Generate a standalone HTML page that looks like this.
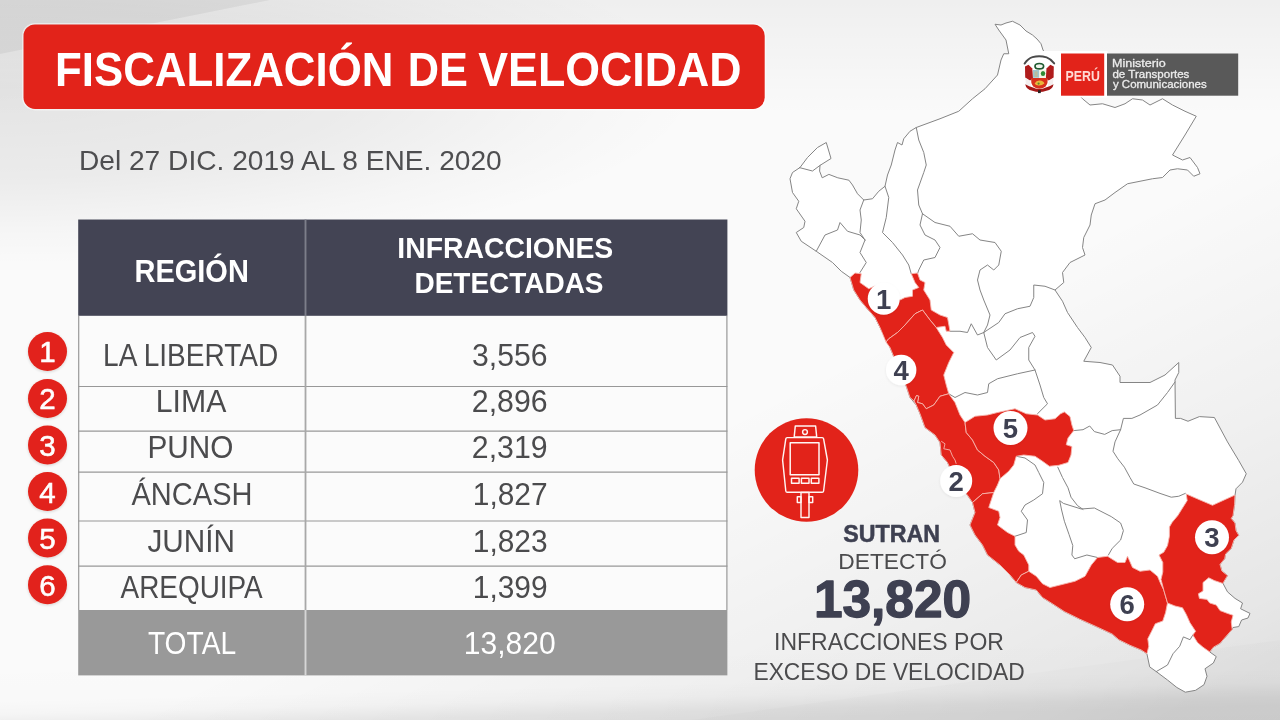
<!DOCTYPE html>
<html lang="es">
<head>
<meta charset="utf-8">
<title>Fiscalización de velocidad</title>
<style>
html,body{margin:0;padding:0;}
body{width:1280px;height:720px;overflow:hidden;position:relative;font-family:"Liberation Sans",sans-serif;
background:#f1f1f1;}
#bg{position:absolute;left:0;top:0;width:1280px;height:720px;}
svg{position:absolute;left:0;top:0;}
svg text{font-family:"Liberation Sans",sans-serif;}
</style>
</head>
<body>
<svg id="page" width="1280" height="720" viewBox="0 0 1280 720">
<defs>
<linearGradient id="gtop" gradientUnits="userSpaceOnUse" x1="0" y1="0" x2="0" y2="115">
<stop offset="0" stop-color="#000" stop-opacity="0.045"/><stop offset="1" stop-color="#000" stop-opacity="0"/>
</linearGradient>
<radialGradient id="gtl" gradientUnits="userSpaceOnUse" cx="0" cy="90" r="1" gradientTransform="translate(0 90) scale(700 175) translate(0 -90)">
<stop offset="0" stop-color="#000" stop-opacity="0.09"/><stop offset="0.5" stop-color="#000" stop-opacity="0.06"/><stop offset="0.8" stop-color="#000" stop-opacity="0.02"/><stop offset="1" stop-color="#000" stop-opacity="0"/>
</radialGradient>
<linearGradient id="gbot" gradientUnits="userSpaceOnUse" x1="0" y1="660" x2="3" y2="780">
<stop offset="0" stop-color="#000" stop-opacity="0"/><stop offset="0.35" stop-color="#000" stop-opacity="0.006"/><stop offset="0.45" stop-color="#000" stop-opacity="0.02"/><stop offset="0.5" stop-color="#000" stop-opacity="0.04"/><stop offset="0.57" stop-color="#000" stop-opacity="0.07"/><stop offset="0.65" stop-color="#000" stop-opacity="0.085"/><stop offset="1" stop-color="#000" stop-opacity="0.09"/>
</linearGradient>
<linearGradient id="gbr" gradientUnits="userSpaceOnUse" x1="640" y1="330" x2="900" y2="850">
<stop offset="0.2" stop-color="#000" stop-opacity="0"/><stop offset="0.6" stop-color="#000" stop-opacity="0.04"/><stop offset="0.9" stop-color="#000" stop-opacity="0.078"/><stop offset="1" stop-color="#000" stop-opacity="0.1"/>
</linearGradient>
<filter id="sh2" x="-30%" y="-30%" width="160%" height="160%"><feGaussianBlur in="SourceAlpha" stdDeviation="1.4"/><feOffset dx="0" dy="0.5" result="b"/><feComponentTransfer><feFuncA type="linear" slope="0.07"/></feComponentTransfer><feMerge><feMergeNode/><feMergeNode in="SourceGraphic"/></feMerge></filter>
<filter id="sh" x="-30%" y="-30%" width="160%" height="160%"><feGaussianBlur in="SourceAlpha" stdDeviation="1.6"/><feOffset dx="0" dy="1" result="b"/><feComponentTransfer><feFuncA type="linear" slope="0.16"/></feComponentTransfer><feMerge><feMergeNode/><feMergeNode in="SourceGraphic"/></feMerge></filter>
</defs>
<!-- background -->
<g id="background">
<rect width="1280" height="720" fill="#fafafa"/>
<rect width="1280" height="720" fill="url(#gtop)"/>
<rect width="1280" height="720" fill="url(#gtl)"/>
<polygon points="0,0 270,0 0,54" fill="#000" opacity="0.05"/>
<rect width="1280" height="720" fill="url(#gbot)"/>
<rect width="1280" height="720" fill="url(#gbr)"/>
<polygon points="690,720 1010,676 1280,640 1280,720" fill="#000" opacity="0.012"/>
</g>

<!-- title -->
<g id="title">
<rect x="22" y="23" width="744.2" height="87.4" rx="13" ry="13" fill="#ffffff" opacity="0.5"/>
<rect x="23.5" y="24.5" width="741.2" height="84.4" rx="11.5" ry="11.5" fill="#e2231a"/>
</g>

<!-- table -->
<g id="table">
<rect x="78.2" y="219.5" width="649.2" height="456" fill="#fbfbfb"/>
<rect x="78.2" y="219.5" width="649.2" height="96.3" fill="#434454"/>
<rect x="78.2" y="610" width="649.2" height="65.4" fill="#999999"/>
<g stroke="#989898" stroke-width="1.2" fill="none">
<line x1="78.2" x2="727.4" y1="386.5" y2="386.5"/><line x1="78.2" x2="727.4" y1="431.1" y2="431.1"/><line x1="78.2" x2="727.4" y1="472.1" y2="472.1"/><line x1="78.2" x2="727.4" y1="521" y2="521"/><line x1="78.2" x2="727.4" y1="566.2" y2="566.2"/>
<line x1="78.7" x2="78.7" y1="315.8" y2="610"/>
<line x1="726.9" x2="726.9" y1="315.8" y2="610"/>
</g>
<line x1="305.5" x2="305.5" y1="315.8" y2="610" stroke="#a8a8a8" stroke-width="1.8"/>
<line x1="305.5" x2="305.5" y1="219.5" y2="315.8" stroke="#7c7e8a" stroke-width="1.9"/>
<line x1="305.5" x2="305.5" y1="610" y2="675.4" stroke="#d6d6d6" stroke-width="1.9"/>
</g>

<!-- rank bullets -->
<g id="bullets" filter="url(#sh)">
<circle cx="47.5" cy="351.5" r="19.5" fill="#e2231a"/><circle cx="47.5" cy="398.4" r="19.5" fill="#e2231a"/><circle cx="47.5" cy="445" r="19.5" fill="#e2231a"/><circle cx="47.5" cy="491.6" r="19.5" fill="#e2231a"/><circle cx="47.5" cy="538" r="19.5" fill="#e2231a"/><circle cx="47.5" cy="584.7" r="19.5" fill="#e2231a"/>
</g>
<g id="bulletnums" font-size="29.5" font-weight="400" fill="#fff" stroke="#fff" stroke-width="0.55" text-anchor="middle">
<text x="47.5" y="362.4">1</text><text x="47.5" y="409.3">2</text><text x="47.5" y="455.9">3</text><text x="47.5" y="502.5">4</text><text x="47.5" y="548.9">5</text><text x="47.5" y="595.6">6</text>
</g>

<!-- map -->
<g id="map">
<polygon points="995,24.25 1001,25 1006,23 1012.5,21.25 1020,25 1026,31 1032.5,35 1037,39 1041,43.75 1043,50 1047,56 1052,62 1058,70 1064,78 1070,86 1076,92 1082.5,98.75 1090,105 1102.5,103.75 1115,107.5 1125,103.75 1132.5,98.75 1142.5,100 1150,105 1162.5,98.75 1172.5,105 1185,111.25 1196.25,116.25 1185,135 1172.5,155 1182.5,160 1190,157.5 1197.5,167.5 1200,173.75 1193.75,176.25 1187.5,170 1177.5,168.75 1170,170 1162.5,177.5 1152.5,178.75 1140,181.25 1127.5,183.75 1115,192.5 1105,200 1095,203.75 1091.25,215 1090,225 1083.75,237.5 1082.5,247.5 1085,255 1070,262.5 1062.5,272.5 1063.75,282.5 1055,290 1062.5,301.25 1067.5,312.5 1077.5,327.5 1085,337.5 1091.25,347.5 1083.75,361.25 1100,362.5 1112.5,365 1120,376.25 1120,382.5 1150,382.5 1165,375 1178.75,362.5 1178.75,372.5 1175,380 1175.4,418.4 1180.6,418.4 1188,421.25 1199.4,416.6 1214.4,417.5 1227.5,441.9 1238.75,460.6 1246.25,473.75 1242.5,482.2 1236,488.75 1235,495.3 1234.6,504.4 1233,515.6 1231.25,518.4 1235,523 1236,530.6 1238.75,535.3 1234,540 1231.25,548.4 1225.6,554 1224.7,558.75 1220,564.4 1221.9,571 1227.5,575.6 1222.8,583 1227.5,591.9 1235,598.4 1242.5,603 1240.6,608.75 1250,613.4 1248,618 1241.6,620 1238.75,626.6 1233,627.5 1232.2,629.4 1225.6,636.9 1220,643.4 1213.4,647.2 1209.7,651.9 1216.25,656.6 1213.4,663 1205,668.75 1207,676.25 1204,684.7 1195.6,690.3 1185.3,692.2 1176.9,687.5 1167.5,680 1156.25,671.6 1149.7,666.9 1146.9,653.75 1141.25,650 1130,645.3 1118.75,639.7 1112.2,634 1096.25,626.6 1079.4,619 1064.4,611.6 1051.25,603 1042.5,597.5 1036.25,590 1025,587.5 1016.25,582.5 1010,575 1000,565 987.5,555 982.5,545 975,535 970,525 975,512.5 972.5,502.5 968,496 962,488 956,478 950,468 947.5,462.5 941.25,455 940,442.5 935,435 925,427.5 920,413.75 916.25,405 910,397.5 906.25,386.25 901,375 896,362 890,347.5 885,337.5 880,327.5 875,317.5 866.25,307.5 860,300 853.75,290 850,277.5 841.25,271.25 832.5,262.5 816.25,251.25 801.25,241.25 796.25,232.5 803.75,227.5 805,221.25 796.25,208.75 798.75,201.25 792.5,192.5 790,178.75 792.5,172.5 800,167.5 807.5,157.5 817.5,147.5 826.25,142.5 831,158.5 820,165.4 819.6,171.1 822.2,177.8 828.9,174.4 837.8,177.8 848.9,180.2 852.5,185 857.5,193.75 863.75,200 872.5,198.75 878.75,191.25 885,186.25 887.5,175 891.25,165 895,150 897.5,142.5 902,145 903.75,138.75 910,131.25 916.25,127.5 940,118.75 958.75,111.25 972.5,98.75 985,88.75 997.5,75 1001,60 1003.75,53.75 1008.75,53.75 1006,40 998.75,30" fill="#ffffff" stroke="#858585" stroke-width="1" stroke-linejoin="round"/>
<g fill="none" stroke="#858585" stroke-width="1" stroke-linejoin="round" stroke-linecap="round">
<polyline points="799.5,167.6 812.5,171 820,165.4"/><polyline points="816.25,251.25 825,235 837.5,230 840,222.5 847.5,231.25 860,235 865,240"/><polyline points="863.75,200 860,210 861.25,220 860,232.5 865,240"/><polyline points="865,240 860,252.5 866.25,262.5 860,272.5"/><polyline points="885,186.25 888.75,197.5 886.25,217.5 882.5,232.5 892.5,242.5 902.5,255 908.75,265 911.25,273.75"/><polyline points="916.25,127.5 918.75,140 923.75,152.5 926.25,165 923.75,172.5 917.5,190 918.75,205 922.5,213.75"/><polyline points="922.5,213.75 920,225 925,235 935,240 940,247.5 935,257.5 923.75,260 918.75,270 917.5,273.75"/><polyline points="922.5,213.75 935,222.5 950,226.25 958.75,236.25 972.5,233.75 980,240 995,242.5 1001.25,251.25 998.75,265 993.75,270 987.5,265 980,270 977.5,280 980,290 983.75,300 990,315 987.5,325 983.75,332.5"/><polyline points="950,331.25 960,331.25 967.5,332.5 971.25,323.75 977.5,335 983.75,332.5"/><polyline points="983.75,332.5 998.75,322.5 1005,313.75 1017.5,308.75 1030,306.25 1033.75,297.5 1033.75,285 1045,286.25 1055,290"/><polyline points="983.75,332.5 987.5,347.5 996.25,360 1010,350 1020,337.5 1032.5,332.5 1035,336.25 1028.75,347.5 1028.75,360 1035,370 1040,385 1043.75,397.5 1047.5,403.75 1037.5,413.75"/><polyline points="1035,370 1017.5,373.75 997.5,378.75 988.75,383.75 987.5,392.5 977.5,395 965,392.5 955,397.5 948.75,393.75"/><polyline points="1073.75,430.6 1083,429.7 1089.7,426 1094.4,431.6 1104.7,434.4 1112.2,430.6 1120.6,429.7"/><polyline points="1175,382 1167.5,392.5 1157.5,405 1140,415 1131.9,418.4 1123.4,418.4 1120.6,429.7 1115,441.9 1113,451.25 1117.8,458.75 1124.4,467.2 1130,477.5 1133.75,484 1145,487.8 1160,493.4 1171.25,497.2 1178.75,496.25 1185.3,493.4"/><polyline points="1016.25,456.25 1025,458 1035,465 1038.75,472.5 1043.75,482.5 1042.5,493.75 1033.75,500 1025,505 1021.25,511.25 1027.5,520 1026.25,532.5 1015,536.25"/><polyline points="1057.8,467.2 1062.5,477.5 1068,487.8 1071,497.2 1077.5,505.6 1083,509.4"/><polyline points="1108.4,555 1112.2,548.4 1120.6,540 1123.4,530.6 1120.6,523 1111.25,516.6 1094.4,508 1081.25,509 1063.4,503.4 1059.7,500.6 1061.6,510 1064.4,521.25 1069,534.4 1072.8,545.6 1071.9,555 1074.7,558.75 1086.9,555 1097.5,557.5"/><polyline points="1156.25,671.6 1167.5,665 1173,653.75 1179.7,646.25 1183.4,636.9 1190,639.7 1192.8,635"/>
</g>
<g fill="#e2231a" stroke="#f6b5ae" stroke-width="0.9" stroke-linejoin="round">
<polygon id="r-lalibertad" points="850,277.5 855,273 861.25,273.75 860,282.5 868.75,288.75 875,286 885,290 893,296 900,300 905,297.5 912.5,296.25 912.5,290 918.75,287.5 915,282.5 911.25,273.75 917.5,273 920,280 925,282.5 923.75,290 930,300 931.25,310 940,315 947.5,317.5 950,331.25 946.25,331.25 945,326.25 936.25,327.5 930,320 922.5,310 915,313.75 905,325 897.5,332.5 888.75,338.75 886,342 880,327.5 875,317.5 866.25,307.5 860,300 853.75,290"/><polygon id="r-ancash" points="886,342 888.75,338.75 897.5,332.5 905,325 915,313.75 922.5,310 930,320 936.25,327.5 942.5,337.5 946.25,345 953.75,352.5 948.75,362.5 943.75,375 946.25,385 948.75,393.75 940,396.25 933.75,405 926.25,408.75 922.5,403.75 917.5,402.5 918.75,396.25 916.5,395.5 914,401 910,397.5 906.25,386.25 901,375 896,362 890,347.5"/><polygon id="r-lima" points="914,401 916.5,395.5 918.75,396.25 917.5,402.5 922.5,403.75 926.25,408.75 933.75,405 940,396.25 948.75,393.75 955,402.5 960,415 965,422.5 966.25,432.5 972.5,440 977.5,450 985,456.25 993.75,462.5 998.75,470 1000,478.75 997.5,485 993.75,492.5 982.5,493.75 972.5,502.5 968,496 962,488 956,478 950,468 947.5,462.5 941.25,455 940,442.5 935,435 925,427.5 920,413.75 916.25,405"/><polygon id="r-junin" points="965,422.5 975,416.25 987.5,415 997.5,412.5 1015,408.75 1026.25,413.75 1037.5,415 1045,420 1055,418.75 1060.6,413.75 1064.4,411.9 1070,416.6 1071.9,425 1073.75,430.6 1068,438 1066.25,444.7 1071.9,446.6 1071,455 1068,462.5 1058.75,465.3 1049.4,466.25 1042.5,461.25 1035,456.25 1023.75,455 1016.25,456.25 1013.75,465 1008.75,471.25 1000,478.75 998.75,470 993.75,462.5 985,456.25 977.5,450 972.5,440 966.25,432.5"/><polygon id="r-ica" points="972.5,502.5 982.5,493.75 993.75,492.5 988.75,507.5 998.75,511.25 1000,517.5 997.5,525 1007.5,532.5 1015,536.25 1015,545 1018.75,551.25 1023.75,555 1028.75,565 1028.75,571.25 1021.25,575 1016.25,582.5 1010,575 1000,565 987.5,555 982.5,545 975,535 970,525 975,512.5"/><polygon id="r-arequipa" points="1016.25,582.5 1021.25,575 1028.75,571.25 1036.25,576.25 1042.5,583.75 1050,587.5 1060,585 1075,581.25 1085,576.25 1091.25,565 1097.5,557.5 1107.5,556.25 1117.5,562.5 1125,562.5 1127.5,556.25 1132.5,567.5 1140,571.25 1150,570 1157.5,576.25 1161.25,585 1163.75,590 1167.5,603 1165.6,612.5 1162.8,621 1155.3,623.75 1151.6,631.25 1147.8,638.75 1148.75,646.25 1146.9,653.75 1141.25,650 1130,645.3 1118.75,639.7 1112.2,634 1096.25,626.6 1079.4,619 1064.4,611.6 1051.25,603 1042.5,597.5 1036.25,590 1025,587.5"/><polygon id="r-puno" points="1186.25,494 1199.4,499.7 1212.5,505.3 1224.7,499.7 1235,495 1234.6,504.4 1233,515.6 1231.25,518.4 1235,523 1236,530.6 1238.75,535.3 1234,540 1231.25,548.4 1225.6,554 1224.7,558.75 1220,564.4 1221.9,571 1227.5,575.6 1222.8,583.4 1214.4,580.6 1208.75,577.8 1203,582.5 1203,591 1198.4,593.75 1199.4,598.4 1207,599.4 1209.7,603 1216.25,605 1220,610.6 1227.5,613.4 1233,615.3 1231.25,621.9 1232.2,629.4 1225.6,636.9 1220,643.4 1213.4,647.2 1209.7,651.9 1203,647.2 1197.5,642.5 1192.8,635 1195.6,631.25 1190,622.8 1186.25,614.4 1182.5,607.8 1175,606 1167.5,603 1163.75,590 1161,579.4 1162.8,572 1162.8,562.5 1159,555 1163.75,552.2 1167.5,545.6 1169.4,536.25 1169.4,527 1172.2,522.2 1177.8,515.6 1182.5,508 1187.2,500.6"/>
</g>
<polyline points="941.2,441.2 945,443.8 943.8,448.8 950,450 952.5,456.2 955,460 956.2,463.8" fill="none" stroke="#f6b5ae" stroke-width="0.9"/>
</g>
<g id="markers" filter="url(#sh2)">
<circle cx="883.75" cy="298.75" r="16" fill="#fff"/><circle cx="901.2" cy="370" r="15.2" fill="#fff"/><circle cx="956.2" cy="480.9" r="16" fill="#fff"/><circle cx="1010.5" cy="428" r="17" fill="#fff"/><circle cx="1212" cy="537.3" r="17" fill="#fff"/><circle cx="1127.2" cy="604.3" r="17" fill="#fff"/>
</g>
<g id="markernums" font-size="27.5" font-weight="700" fill="#3e4051" text-anchor="middle">
<text x="883.75" y="308.8">1</text><text x="901.2" y="380.0">4</text><text x="956.2" y="490.9">2</text><text x="1010.5" y="438.0">5</text><text x="1212" y="547.3">3</text><text x="1127.2" y="614.3">6</text>
</g>

<!-- radar icon -->
<g id="icon">
<circle cx="806.5" cy="470" r="51.8" fill="#e2231a"/>
<g fill="none" stroke="#fff5f3" stroke-width="1.45" stroke-linejoin="round">
<polygon points="795.3,425.9 815.6,425.9 816.7,436.9 794.2,436.9"/>
<circle cx="805" cy="432" r="2.4"/>
<path d="M787.2,437.6 H822.2 Q823.4,437.6 823.6,438.8 L827.4,460 L823.6,491 Q823.4,492.3 822.2,492.3 H787.2 Q786,492.3 785.8,491 L782.6,460 L785.8,438.8 Q786,437.6 787.2,437.6 Z"/>
<rect x="790.2" y="442.8" width="28.8" height="32" stroke-width="1.5"/>
<rect x="791.5" y="478.2" width="7.6" height="5"/>
<rect x="801.4" y="478.2" width="7.6" height="5"/>
<rect x="811.3" y="478.2" width="7.6" height="5"/>
<rect x="801" y="492.4" width="8" height="25"/>
<rect x="797.3" y="496.8" width="3.7" height="5.6"/>
<rect x="809" y="496.8" width="3.7" height="5.6"/>
</g>
</g>

<!-- logo -->
<g id="logo">
<rect x="1019" y="51" width="88.5" height="46.5" fill="#ffffff"/>
<rect x="1061" y="53.5" width="43.2" height="42.2" fill="#e2231a"/>
<rect x="1107" y="53.5" width="131.2" height="42.2" fill="#595959"/>
<g id="escudo">
<path d="M1024.6,63.6 Q1028,58.6 1032.5,57.2 Q1039.4,55.2 1046.6,57.4 Q1051,59 1054.2,63.4" fill="none" stroke="#4a4a4a" stroke-width="1.9" stroke-linecap="round"/>
<path d="M1025,66.5 L1028.5,64.8 L1032.3,68.6 L1033,78.5 L1030,80.5 L1025.2,77.5 Z" fill="#b01c1c"/>
<path d="M1053.8,66.5 L1050.3,64.8 L1046.5,68.6 L1045.8,78.5 L1048.8,80.5 L1053.6,77.5 Z" fill="#b01c1c"/>
<path d="M1025.3,78 L1030,81 L1031,86 L1026,85 Z" fill="#f3eeee"/>
<path d="M1053.5,78 L1048.8,81 L1047.8,86 L1052.8,85 Z" fill="#f3eeee"/>
<path d="M1025.2,84.2 Q1029.5,86.4 1033,87.4 Q1039.4,90.6 1045.8,87.4 Q1049.3,86.4 1053.6,84.2 Q1052.6,89.6 1046.4,90.8 Q1039.4,93.2 1032.4,90.8 Q1026.2,89.6 1025.2,84.2 Z" fill="#a51818"/>
<ellipse cx="1039.3" cy="66.2" rx="4.3" ry="2.7" fill="#f2f5ee" stroke="#1f5a30" stroke-width="1.7"/>
<rect x="1033" y="70" width="6.3" height="7.8" fill="#9dc6cf"/>
<rect x="1039.3" y="70" width="6.5" height="7.8" fill="#f4f3e6"/>
<rect x="1034.6" y="71.5" width="3" height="5.5" fill="#c5b88a" opacity="0.7"/>
<ellipse cx="1043" cy="73.6" rx="2.2" ry="2.5" fill="#2f8a36"/>
<path d="M1031.4,78 H1047.4 Q1048.4,83 1045.6,86.4 Q1042.6,88.6 1039.4,88.8 Q1036.2,88.6 1033.2,86.4 Q1030.4,83 1031.4,78 Z" fill="#d8301c"/>
<path d="M1034.6,83.4 Q1036.4,80.2 1040,80.6 Q1043.6,81 1044.4,83.6 Q1041.6,85.8 1038.4,85.4 Q1035.6,85.2 1034.6,83.4 Z" fill="#e9b63c"/>
<circle cx="1038.6" cy="83.6" r="1.1" fill="#5b8a2a"/>
<rect x="1038" y="90.2" width="2.8" height="2.9" fill="#2a2222"/>
</g>
</g>

<!-- all text -->
<g id="texts">
<text id="t-title1" x="54.95" y="85.9" font-size="47.24" font-weight="700" fill="#fff" textLength="338.55" lengthAdjust="spacingAndGlyphs">FISCALIZACIÓN</text>
<text id="t-title2" x="407.65" y="85.9" font-size="47.24" font-weight="700" fill="#fff" textLength="60.20" lengthAdjust="spacingAndGlyphs">DE</text>
<text id="t-title3" x="478.30" y="85.9" font-size="47.24" font-weight="700" fill="#fff" textLength="263.15" lengthAdjust="spacingAndGlyphs">VELOCIDAD</text>
<text id="t-sub" x="78.95" y="169.9" font-size="27.76" font-weight="400" fill="#4e4e50" textLength="422.80" lengthAdjust="spacingAndGlyphs">Del 27 DIC. 2019 AL 8 ENE. 2020</text>
<text id="t-h1" x="134.50" y="281.8" font-size="31.40" font-weight="700" fill="#fff" textLength="114.35" lengthAdjust="spacingAndGlyphs">REGIÓN</text>
<text id="t-h2a" x="397.30" y="258" font-size="30.38" font-weight="700" fill="#fff" textLength="216.00" lengthAdjust="spacingAndGlyphs">INFRACCIONES</text>
<text id="t-h2b" x="414.45" y="293.3" font-size="30.38" font-weight="700" fill="#fff" textLength="189.10" lengthAdjust="spacingAndGlyphs">DETECTADAS</text>
<text id="t-r1" x="103.10" y="366.1" font-size="31.25" font-weight="400" fill="#4b4b4d" textLength="175.05" lengthAdjust="spacingAndGlyphs">LA LIBERTAD</text>
<text id="t-r2" x="155.80" y="411.9" font-size="31.25" font-weight="400" fill="#4b4b4d" textLength="70.55" lengthAdjust="spacingAndGlyphs">LIMA</text>
<text id="t-r3" x="147.50" y="458.1" font-size="31.25" font-weight="400" fill="#4b4b4d" textLength="86.00" lengthAdjust="spacingAndGlyphs">PUNO</text>
<text id="t-r4" x="131.50" y="504.9" font-size="31.25" font-weight="400" fill="#4b4b4d" textLength="121.00" lengthAdjust="spacingAndGlyphs">ÁNCASH</text>
<text id="t-r5" x="147.50" y="551.5" font-size="31.25" font-weight="400" fill="#4b4b4d" textLength="87.50" lengthAdjust="spacingAndGlyphs">JUNÍN</text>
<text id="t-r6" x="120.50" y="598.3" font-size="31.25" font-weight="400" fill="#4b4b4d" textLength="142.25" lengthAdjust="spacingAndGlyphs">AREQUIPA</text>
<text id="t-tot" x="147.90" y="654.1" font-size="31.25" font-weight="400" fill="#fff" textLength="88.20" lengthAdjust="spacingAndGlyphs">TOTAL</text>
<text id="t-n1" x="472.05" y="366.3" font-size="30.43" font-weight="400" fill="#4b4b4d" textLength="75.55" lengthAdjust="spacingAndGlyphs">3,556</text>
<text id="t-n2" x="471.80" y="412" font-size="30.43" font-weight="400" fill="#4b4b4d" textLength="75.80" lengthAdjust="spacingAndGlyphs">2,896</text>
<text id="t-n3" x="471.80" y="458.2" font-size="30.43" font-weight="400" fill="#4b4b4d" textLength="75.80" lengthAdjust="spacingAndGlyphs">2,319</text>
<text id="t-n4" x="472.75" y="505" font-size="30.43" font-weight="400" fill="#4b4b4d" textLength="74.90" lengthAdjust="spacingAndGlyphs">1,827</text>
<text id="t-n5" x="472.75" y="551.6" font-size="30.43" font-weight="400" fill="#4b4b4d" textLength="74.90" lengthAdjust="spacingAndGlyphs">1,823</text>
<text id="t-n6" x="472.75" y="598.4" font-size="30.43" font-weight="400" fill="#4b4b4d" textLength="74.90" lengthAdjust="spacingAndGlyphs">1,399</text>
<text id="t-ntot" x="463.75" y="654.1" font-size="30.43" font-weight="400" fill="#fff" textLength="92.00" lengthAdjust="spacingAndGlyphs">13,820</text>
<text id="t-s1" x="843.25" y="541.9" font-size="23.26" font-weight="700" fill="#3e4051" stroke="#3e4051" stroke-width="0.5" stroke-linejoin="round" textLength="96.75" lengthAdjust="spacingAndGlyphs">SUTRAN</text>
<text id="t-s2" x="838.30" y="568.6" font-size="22.82" font-weight="400" fill="#4b4b4d" textLength="108.65" lengthAdjust="spacingAndGlyphs">DETECTÓ</text>
<text id="t-s3" x="813.90" y="617.3" font-size="52.29" font-weight="700" fill="#3e4051" stroke="#3e4051" stroke-width="1.3" stroke-linejoin="round" textLength="157.20" lengthAdjust="spacingAndGlyphs">13,820</text>
<text id="t-s4" x="774.00" y="649.6" font-size="23.40" font-weight="400" fill="#4b4b4d" textLength="229.90" lengthAdjust="spacingAndGlyphs">INFRACCIONES POR</text>
<text id="t-s5" x="753.45" y="679.5" font-size="23.55" font-weight="400" fill="#4b4b4d" textLength="271.30" lengthAdjust="spacingAndGlyphs">EXCESO DE VELOCIDAD</text>
<text id="t-peru" x="1065.60" y="80.6" font-size="14.53" font-weight="700" fill="#ffd9d4" textLength="34.30" lengthAdjust="spacingAndGlyphs">PERÚ</text>
<text id="t-m1" x="1111.95" y="67.4" font-size="10.90" font-weight="400" fill="#ececec" stroke="#ececec" stroke-width="0.3" stroke-linejoin="round" textLength="53.75" lengthAdjust="spacingAndGlyphs">Ministerio</text>
<text id="t-m2" x="1112.45" y="77.7" font-size="10.90" font-weight="400" fill="#ececec" stroke="#ececec" stroke-width="0.3" stroke-linejoin="round" textLength="76.95" lengthAdjust="spacingAndGlyphs">de Transportes</text>
<text id="t-m3" x="1112.95" y="88" font-size="10.90" font-weight="400" fill="#ececec" stroke="#ececec" stroke-width="0.3" stroke-linejoin="round" textLength="93.80" lengthAdjust="spacingAndGlyphs">y Comunicaciones</text>
</g>
</svg>
</body>
</html>
